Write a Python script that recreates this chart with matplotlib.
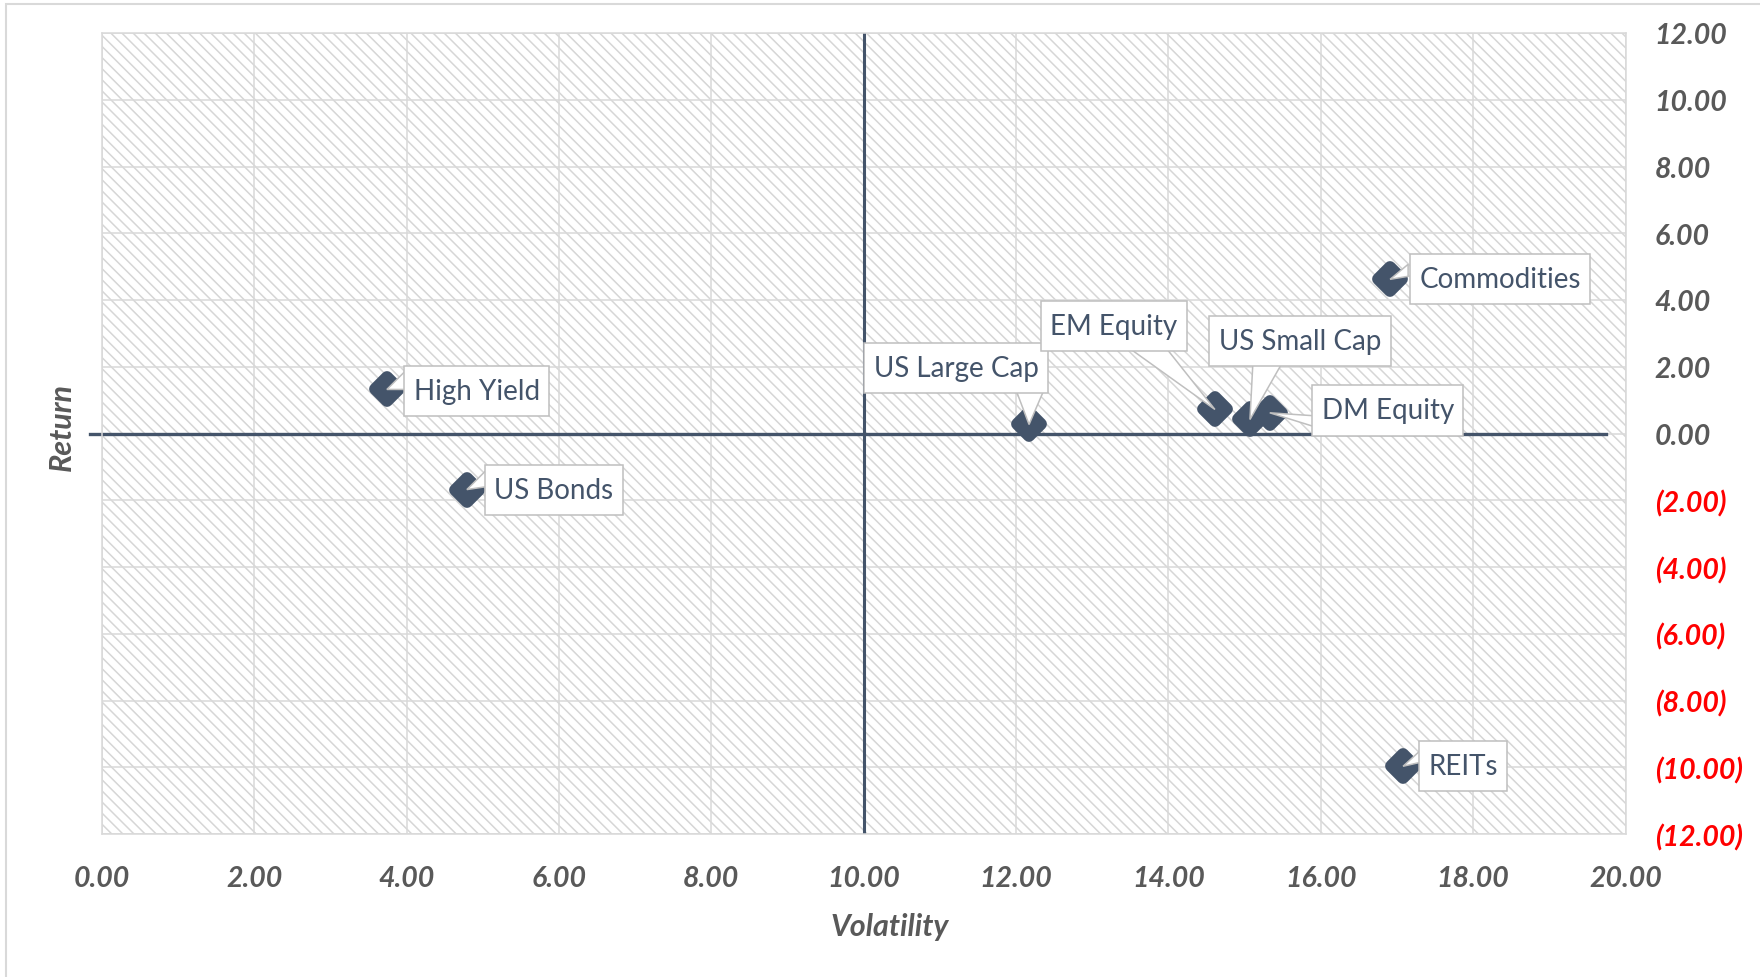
import matplotlib
matplotlib.use("Agg")
import matplotlib.pyplot as plt
from matplotlib.markers import MarkerStyle
from matplotlib.patches import Polygon, Rectangle
from matplotlib.path import Path
from matplotlib.transforms import IdentityTransform
from matplotlib.ticker import FuncFormatter, MultipleLocator

# ---- data ----
assets = ["High Yield", "US Bonds", "US Large Cap", "EM Equity",
          "US Small Cap", "DM Equity", "Commodities", "REITs"]
volatility = [3.74, 4.79, 12.17, 14.61, 15.07, 15.33, 16.91, 17.08]
returns = [1.32, -1.68, 0.27, 0.72, 0.42, 0.62, 4.62, -9.97]

x_ticks = [0, 2, 4, 6, 8, 10, 12, 14, 16, 18, 20]
y_ticks = [-12, -10, -8, -6, -4, -2, 0, 2, 4, 6, 8, 10, 12]

# label box centre offsets from each point, in pixels (dx right, dy up)
label_offsets = {
    "High Yield": (90, -1.5),
    "US Bonds": (87, -0.5),
    "US Large Cap": (-73, 56.5),
    "EM Equity": (-101, 83.5),
    "US Small Cap": (50, 78.5),
    "DM Equity": (118, 2.5),
    "Commodities": (110, 0.5),
    "REITs": (60, 0),
}
# callout pointer base, two points relative to the box centre (px, dy up)
pointer_base = {
    "High Yield": ((-70, 21.5), (-70, 1.5)),
    "US Bonds": ((-67, 20.5), (-67, 3.5)),
    "US Large Cap": ((59, -19.5), (89, -19.5)),
    "EM Equity": ((13, -20.5), (51, -20.5)),
    "US Small Cap": ((-47, -20.5), (-17, -20.5)),
    "DM Equity": ((-73, -5.5), (-73, -16.5)),
    "Commodities": ((-92, 14.5), (-92, 2.5)),
    "REITs": ((-38, 20), (-38, 5)),
}

# ---- style ----
FONT = ["Lato", "DejaVu Sans"]
plt.rcParams["font.family"] = FONT
plt.rcParams["hatch.color"] = "#d6d6d6"
plt.rcParams["hatch.linewidth"] = 1.1
MARK = "#44546A"
GRID = "#d9d9d9"
TICK = "#595959"
CALLOUT_EDGE = "#bfbfbf"
TICK_SIZE = 20.5


def callout_box(x0, y0, width, height, mutation_size):
    """Rectangle with separate horizontal and vertical padding."""
    px = 0.34 * mutation_size
    py = 0.44 * mutation_size
    x0, y0 = x0 - px, y0 - py
    x1, y1 = x0 + width + 2 * px, y0 + height + 2 * py
    return Path([(x0, y0), (x1, y0), (x1, y1), (x0, y1), (x0, y0)],
                closed=True)


fig = plt.figure(figsize=(17.6, 9.78), dpi=100)
fig.patch.set_facecolor("white")

# chart-area border
fig.patches.append(Rectangle((6 / 1760, -0.1), 1.2, 1.1 - 5 / 978,
                             transform=fig.transFigure, fill=False,
                             ec="#d9d9d9", lw=1.5, zorder=0))

ax = fig.add_axes([102 / 1760, 1 - 835 / 978, 1523.5 / 1760, 801 / 978])
ax.set_xlim(0, 20)
ax.set_ylim(-12, 12)
ax.patch.set_facecolor("white")

# hatched plot area
ax.add_patch(Rectangle((0, 0), 1, 1, transform=ax.transAxes, fc="white",
                       ec="#d6d6d6", lw=0, hatch="\\\\\\", zorder=0))

ax.xaxis.set_major_locator(MultipleLocator(2))
ax.yaxis.set_major_locator(MultipleLocator(2))
ax.grid(True, color=GRID, lw=1.1, zorder=0.5)
ax.set_axisbelow(True)
for s in ax.spines.values():
    s.set_color(GRID)
    s.set_linewidth(1.1)

ax.yaxis.tick_right()
ax.tick_params(axis="both", length=0)
ax.tick_params(axis="y", pad=21)
ax.tick_params(axis="x", pad=22)


def yfmt(v, pos):
    if v < 0:
        return f"({abs(v):.2f})"
    return f"{v:.2f}"


ax.xaxis.set_major_formatter(FuncFormatter(lambda v, p: f"{v:.2f}"))
ax.yaxis.set_major_formatter(FuncFormatter(yfmt))
ax.set_xticks(x_ticks)
ax.set_yticks(y_ticks)
for lab in ax.get_xticklabels():
    lab.set_fontsize(TICK_SIZE)
    lab.set_fontweight("bold")
    lab.set_fontstyle("italic")
    lab.set_color(TICK)
for lab, v in zip(ax.get_yticklabels(), y_ticks):
    lab.set_fontsize(TICK_SIZE)
    lab.set_fontweight("bold")
    lab.set_fontstyle("italic")
    lab.set_color("#FF0000" if v < 0 else TICK)

# crossing axes at (10, 0)
ax.axvline(10, color=MARK, lw=2.2, zorder=1.5)
ax.plot([-0.008, 0.987], [0, 0], transform=ax.get_yaxis_transform(),
        color=MARK, lw=2.4, clip_on=False, zorder=1.5)

# points: rounded diamonds
marker = MarkerStyle("D", joinstyle="round")
ax.plot(volatility, returns, linestyle="none", marker=marker, ms=12.5,
        mfc=MARK, mec=MARK, mew=8.5, zorder=3)

# callout labels: a pointer wedge from the box edge to the point, then the box
for name, vx, vy in zip(assets, volatility, returns):
    dx, dy = label_offsets[name]
    px, py = ax.transData.transform((vx, vy))
    cx, cy = px + dx, py + dy
    (b1x, b1y), (b2x, b2y) = pointer_base[name]
    ax.add_patch(Polygon([(cx + b1x, cy + b1y), (px, py), (cx + b2x, cy + b2y)],
                         closed=True, transform=IdentityTransform(),
                         fc="white", ec=CALLOUT_EDGE, lw=1.1,
                         joinstyle="miter", clip_on=False, zorder=3.5))
    ax.annotate(name, xy=(vx, vy), xytext=(dx, dy), textcoords="offset pixels",
                ha="center", va="center", fontsize=20, color=MARK,
                bbox=dict(boxstyle=callout_box, fc="white", ec=CALLOUT_EDGE,
                          lw=1.1),
                zorder=4)

fig.text(890 / 1760, 1 - 927 / 978, "Volatility", ha="center", va="center",
         fontsize=22, fontweight="bold", fontstyle="italic", color=TICK)
fig.text(62 / 1760, 1 - 427 / 978, "Return", ha="center", va="center",
         rotation=90, fontsize=22, fontweight="bold", fontstyle="italic",
         color=TICK)

fig.savefig("out.png", dpi=100, facecolor="white")
